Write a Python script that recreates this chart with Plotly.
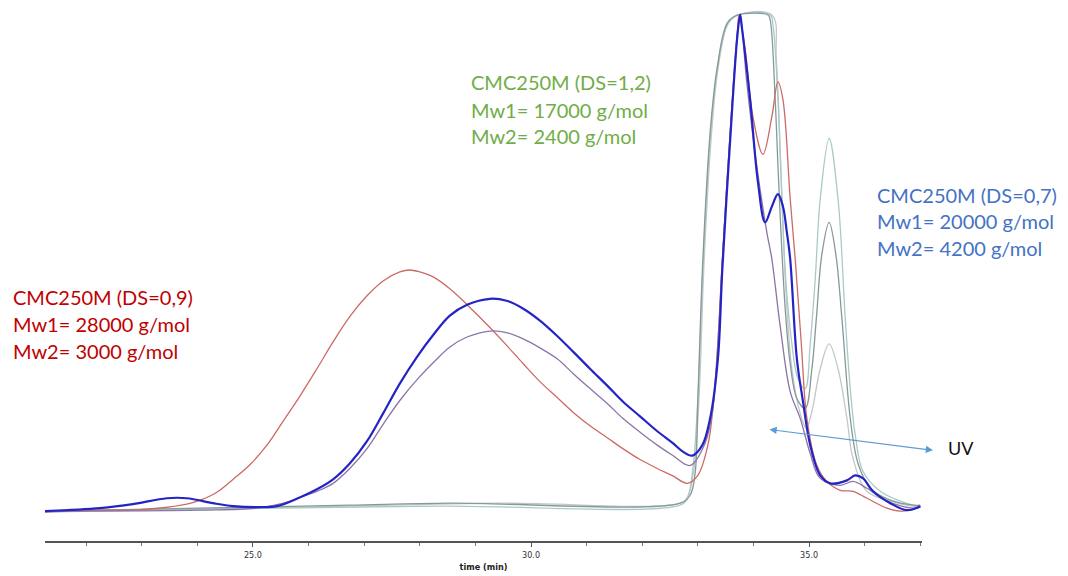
import plotly.graph_objects as go

# ---- data (time in min, detector signal, arbitrary units 0-100) ----
red_t = [21.26, 22.25, 22.84, 23.81, 24.05, 24.35, 24.64, 24.95, 25.25, 25.54, 25.85, 26.15, 26.44,
         26.74, 27.05, 27.34, 27.64, 27.82, 28.00, 28.24, 28.54, 28.96, 29.26, 29.57, 29.86, 30.16,
         30.47, 30.76, 31.06, 31.37, 31.65, 31.96, 32.27, 32.55, 32.81, 33.00, 33.18, 33.27, 33.36,
         33.44, 33.58, 33.71, 33.74, 33.85, 33.99, 34.17, 34.33, 34.44, 34.53, 34.66, 34.75, 34.86,
         34.96, 35.14, 35.32, 35.56, 35.79, 36.04, 36.40, 36.64, 36.87, 37.00]
red_v = [-0.2, 0.2, 0.2, 1.4, 2.2, 3.8, 6.4, 9.4, 13.3, 18.1, 23.3, 28.7, 34.1,
         39.2, 43.4, 46.4, 48.2, 48.6, 48.2, 47.2, 44.8, 40.4, 37.0, 33.3, 29.7, 26.1,
         22.9, 19.9, 17.2, 14.8, 12.6, 10.4, 8.6, 7.1, 5.6, 7.2, 13.3, 20.7, 34.1,
         50.8, 76.3, 96.4, 100.0, 93.0, 79.5, 71.9, 79.5, 86.5, 82.9, 62.9, 50.8, 33.7,
         18.7, 9.2, 6.0, 4.2, 4.0, 2.6, 0.6, 0.0, 0.4, 0.8]

blue_t = [21.26, 22.25, 22.84, 23.45, 23.81, 24.28, 24.64, 25.07, 25.43, 25.85, 26.15, 26.44, 26.74,
          27.05, 27.34, 27.64, 27.95, 28.24, 28.54, 28.85, 29.26, 29.56, 29.86, 30.16, 30.47, 30.76,
          31.06, 31.37, 31.65, 31.96, 32.27, 32.55, 32.73, 32.90, 33.08, 33.22, 33.36, 33.44, 33.58,
          33.71, 33.76, 33.79, 33.94, 34.08, 34.21, 34.33, 34.44, 34.53, 34.60, 34.66, 34.78, 34.89,
          35.02, 35.20, 35.38, 35.68, 35.83, 35.97, 36.15, 36.46, 36.76, 37.00]
blue_v = [0.0, 0.6, 1.4, 2.6, 2.6, 1.6, 1.0, 0.8, 1.0, 2.8, 4.4, 6.4, 9.6,
          14.1, 19.7, 25.7, 31.1, 35.5, 39.4, 41.6, 42.8, 42.4, 40.8, 38.4, 35.3, 32.1,
          28.7, 25.3, 22.1, 19.1, 16.1, 13.7, 12.0, 11.2, 13.3, 18.7, 30.7, 48.8, 74.7,
          95.8, 100.0, 97.6, 82.9, 66.3, 58.2, 61.4, 63.9, 61.4, 56.2, 50.8, 30.7, 22.1,
          13.3, 7.2, 5.6, 6.2, 7.2, 6.6, 4.0, 1.6, 0.2, 1.0]

purple_t = [21.26, 24.05, 25.07, 25.55, 25.85, 26.15, 26.44, 26.74, 27.05, 27.34, 27.64, 27.95, 28.24,
            28.54, 28.85, 29.26, 29.56, 29.86, 30.16, 30.47, 30.76, 31.06, 31.37, 31.65, 31.96, 32.27,
            32.55, 32.86, 33.13, 33.27, 33.36, 33.44, 33.58, 33.71, 33.76, 33.88, 34.06, 34.24, 34.33,
            34.48, 34.66, 34.84, 35.02, 35.20, 35.56, 35.79, 36.04, 36.40, 36.87, 37.00]
purple_v = [0.0, 0.2, 0.6, 1.6, 2.8, 4.0, 5.6, 8.6, 12.6, 17.5, 22.3, 26.5, 29.9,
            33.1, 35.1, 36.3, 36.0, 34.7, 32.9, 30.7, 27.7, 24.7, 21.7, 18.7, 15.9, 13.3,
            11.2, 9.2, 13.7, 20.7, 33.7, 50.4, 75.9, 96.4, 100.0, 86.3, 69.5, 56.2, 50.8,
            37.3, 24.1, 18.7, 11.6, 6.6, 5.2, 6.0, 4.6, 2.0, 0.6, 1.0]

uv1_t = [21.26, 24.05, 26.74, 28.54, 32.68, 32.86, 32.95, 33.00, 33.09, 33.22, 33.35, 33.53, 33.72,
         34.26, 34.30, 34.39, 34.44, 34.50, 34.57, 34.66, 34.78, 34.93, 35.05, 35.13, 35.23, 35.36,
         35.48, 35.59, 35.74, 35.88, 36.10, 36.46, 36.87, 37.00]
uv1_v = [0.0, 0.6, 1.2, 1.6, 1.6, 3.2, 7.6, 22.7, 50.8, 76.3, 89.6, 98.4, 100.0,
         100.0, 99.0, 82.9, 69.5, 54.8, 40.8, 29.7, 22.7, 20.7, 28.7, 38.8, 51.8, 58.2,
         51.8, 38.8, 18.7, 9.6, 4.6, 2.2, 1.2, 1.2]

uv2_t = [21.26, 24.05, 28.36, 32.68, 32.81, 32.91, 33.00, 33.09, 33.22, 33.35, 33.53, 33.72, 34.30,
         34.35, 34.44, 34.51, 34.58, 34.68, 34.80, 34.93, 35.02, 35.11, 35.20, 35.36, 35.52, 35.65,
         35.74, 35.83, 35.97, 36.28, 36.64, 36.87, 37.00]
uv2_v = [-0.2, 0.4, 1.0, 1.2, 2.6, 8.6, 22.7, 48.8, 74.9, 89.0, 98.0, 100.0, 100.0,
         98.0, 82.9, 62.9, 46.8, 34.7, 26.7, 24.7, 33.7, 46.8, 62.9, 75.1, 62.9, 38.8,
         24.7, 15.3, 8.0, 4.0, 2.0, 1.2, 1.0]

uv3_t = [21.26, 25.85, 29.44, 32.68, 32.82, 32.93, 33.02, 33.11, 33.24, 33.36, 33.54, 33.72, 34.33,
         34.41, 34.50, 34.58, 34.69, 34.84, 34.95, 35.05, 35.20, 35.36, 35.52, 35.68, 35.79, 36.04,
         36.46, 36.87, 37.00]
uv3_v = [0.0, 0.8, 1.6, 1.6, 3.0, 8.6, 22.7, 49.8, 75.3, 89.0, 98.2, 100.0, 100.0,
         91.0, 66.9, 44.8, 28.7, 19.7, 16.7, 20.1, 28.7, 33.7, 28.7, 18.7, 10.6, 4.0,
         2.0, 1.0, 1.0]

tick_vals = [25.0, 30.0, 35.0]
tick_text = ["25.0", "30.0", "35.0"]

red_label = ["CMC250M (DS=0,9)", "Mw1= 28000 g/mol", "Mw2= 3000 g/mol"]
green_label = ["CMC250M (DS=1,2)", "Mw1= 17000 g/mol", "Mw2= 2400 g/mol"]
blue_label = ["CMC250M (DS=0,7)", "Mw1= 20000 g/mol", "Mw2= 4200 g/mol"]

# ---- layout geometry ----
W, H = 1068, 576
ML, MR, MT, MB = 45, 146, 5, 33
PW = W - ML - MR
PH = H - MT - MB


def px(x):
    return (x - ML) / PW


def py(y):
    return (H - MB - y) / PH


fig = go.Figure()

spl = dict(shape="spline", smoothing=1.0)
fig.add_trace(go.Scatter(x=uv3_t, y=uv3_v, mode="lines",
                         line=dict(color="#c2c8c8", width=1.3, **spl), hoverinfo="skip"))
fig.add_trace(go.Scatter(x=uv2_t, y=uv2_v, mode="lines",
                         line=dict(color="#a9cac6", width=1.3, **spl), hoverinfo="skip"))
fig.add_trace(go.Scatter(x=uv1_t, y=uv1_v, mode="lines",
                         line=dict(color="#86999a", width=1.3, **spl), hoverinfo="skip"))
fig.add_trace(go.Scatter(x=red_t, y=red_v, mode="lines",
                         line=dict(color="#cc6a66", width=1.3, **spl), hoverinfo="skip"))
fig.add_trace(go.Scatter(x=purple_t, y=purple_v, mode="lines",
                         line=dict(color="#8c74a6", width=1.3, **spl), hoverinfo="skip"))
fig.add_trace(go.Scatter(x=blue_t, y=blue_v, mode="lines",
                         line=dict(color="#2424c4", width=2.2, **spl), hoverinfo="skip"))

annotations = []
txt_font = "Lato, 'Open Sans', sans-serif"


def add_block(lines, x0, ys, color):
    for t, yy in zip(lines, ys):
        annotations.append(dict(xref="paper", yref="paper", x=px(x0), y=py(yy), text=t,
                                showarrow=False, xanchor="left", yanchor="middle",
                                font=dict(family=txt_font, size=20, color=color)))


add_block(red_label, 11, [298, 325, 352], "#c00000")
add_block(green_label, 469, [82, 110, 136], "#70ad47")
add_block(blue_label, 875, [196, 222, 249], "#4472c4")

annotations.append(dict(xref="paper", yref="paper", x=px(946), y=py(450), text="UV",
                        showarrow=False, xanchor="left", yanchor="middle",
                        font=dict(family=txt_font, size=18, color="#111111")))
annotations.append(dict(xref="paper", yref="paper", x=px(933), y=py(452),
                        axref="pixel", ayref="pixel", ax=-165, ay=-21,
                        text="", showarrow=True, arrowhead=2, startarrowhead=2,
                        arrowside="end+start", arrowsize=1.2, arrowwidth=1.2,
                        arrowcolor="#5b9bd5"))

fig.update_layout(
    width=W, height=H,
    margin=dict(l=ML, r=MR, t=MT, b=MB),
    plot_bgcolor="white", paper_bgcolor="white",
    showlegend=False,
    annotations=annotations,
    xaxis=dict(range=[21.26, 37.03], showgrid=False, zeroline=False,
               showline=True, linecolor="#555555", linewidth=1.5,
               tickmode="array", tickvals=tick_vals, ticktext=tick_text,
               ticks="outside", ticklen=4, tickcolor="#555555", tickwidth=1,
               minor=dict(dtick=1, tick0=21, ticks="outside", ticklen=3, tickcolor="#777777"),
               tickfont=dict(family="'Liberation Sans Narrow', 'DejaVu Sans Condensed', sans-serif",
                             size=9, color="#333333"),
               title=dict(text="<b>time (min)</b>", standoff=5,
                          font=dict(family="'Liberation Sans Narrow', 'DejaVu Sans Condensed', sans-serif",
                                    size=9, color="#222222")),
               fixedrange=True),
    yaxis=dict(range=[-6.02, 102.01], visible=False, fixedrange=True),
)

fig.write_html("out.html")
